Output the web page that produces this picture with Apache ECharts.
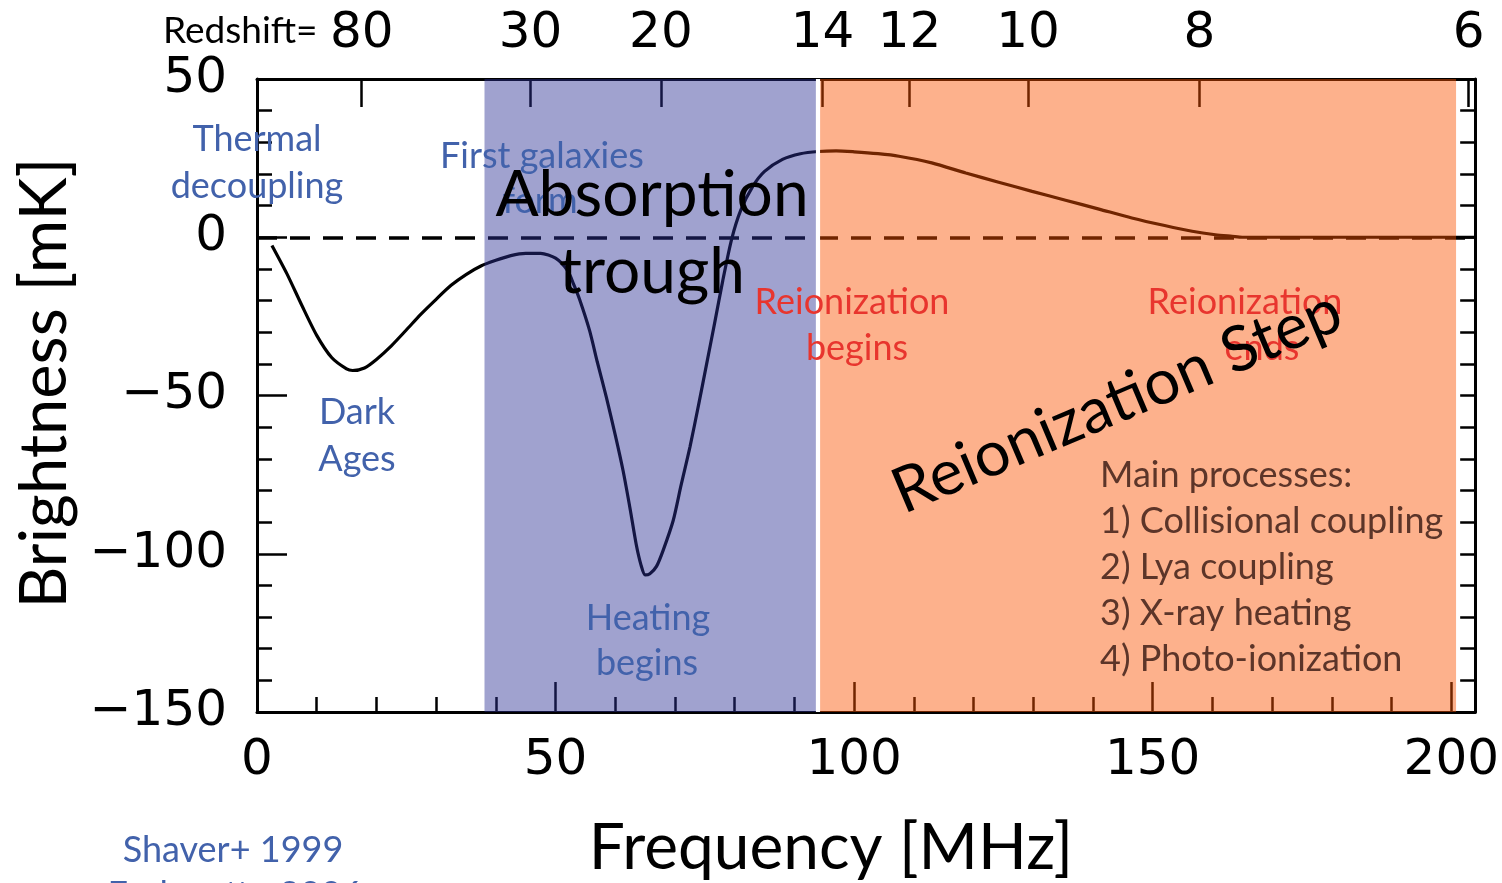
<!DOCTYPE html>
<html>
<head>
<meta charset="utf-8">
<title>21-cm global signal</title>
<script src="https://cdn.jsdelivr.net/npm/echarts/dist/echarts.min.js"></script>
<style>
  html, body { margin: 0; padding: 0; background: #fff; }
  #chart { width: 1502px; height: 883px; }
</style>
</head>
<body>
<div id="chart"></div>
<script>
// Sky-averaged 21-cm brightness temperature versus observed frequency
const frequencyMHz = [2.5, 5, 7.5, 10, 12.5, 15, 16, 18, 20, 22.5, 25, 27.5, 30, 32.5, 35, 37.5, 40, 42.5, 45, 47.5,
  50, 52, 53, 54, 55.7, 57, 58.5, 60, 61.3, 62.5, 63.5, 64.3, 65, 65.8, 66.9, 68, 69.7, 71, 72.5, 74, 75.3, 76.7,
  78, 79.5, 81, 83, 85, 88, 91, 94, 97, 100, 104, 107.5, 113, 118.7, 124.2, 129.8, 135.4, 141, 146.5, 152,
  156.6, 160.5, 163.3, 165, 185, 204];
const brightnessMK = [-2.6, -11.5, -21.5, -31, -38, -41.6, -42.1, -41.3, -38.6, -34.3, -29.3, -24.2, -19.6, -15.2, -11.8, -9.1, -7.3, -5.8, -5.1, -5.1,
  -6.6, -10.5, -14.7, -19.5, -29.5, -39.5, -50.5, -62.5, -73.7, -86, -97, -103.5, -106.7, -106.3, -104, -99, -89.5, -78.5, -66.3, -52.5, -40, -26.5,
  -13.7, -0.5, 8.5, 16, 20.8, 24.6, 26.4, 27.1, 27.3, 27.0, 26.4, 25.6, 23.5, 20.3, 17.4, 14.5, 11.7, 8.9, 6.1, 3.7,
  1.9, 0.8, 0.3, 0, 0, 0];

// Axis ticks
const freqLabels = [0, 50, 100, 150, 200];
const freqMinor = [10, 20, 30, 40, 60, 70, 80, 90, 110, 120, 130, 140, 160, 170, 180, 190];
const brightLabels = [-150, -100, -50, 0, 50];
const brightMinor = [-140, -130, -120, -110, -90, -80, -70, -60, -40, -30, -20, -10, 10, 20, 30, 40];
const redshiftLabels = [80, 30, 20, 14, 12, 10, 8, 6];

// Epoch bands in MHz
const absorptionBand = [38.1, 93.6];
const gapBand = [93.6, 94.3];
const reionizationBand = [94.3, 200.8];

const F21 = 1420.4; // rest frequency of the 21-cm line, MHz
const redshiftFreq = redshiftLabels.map(z => F21 / (1 + z));

const X_MIN = 0, X_MAX = 204, Y_MIN = -150, Y_MAX = 50;
const numFont = 'DejaVu Sans';
const txtFont = 'Lato';
const frame = { show: true, onZero: false, lineStyle: { color: '#000', width: 3 } };
const tickStyle = { color: '#000', width: 2.5 };

function minusFmt(v) { return v < 0 ? '\u2212' + Math.abs(v) : String(v); }

const blueTxt = '#4262ab';
const redTxt = '#e8352e';
const brownTxt = '#5c3529';

function label(text, x, y, opts) {
  opts = opts || {};
  return {
    type: 'text', x: x, y: y, z: opts.z != null ? opts.z : 20, rotation: opts.rotation || 0,
    style: {
      text: text, fill: opts.color || '#000', fontSize: opts.size || 36, fontFamily: opts.font || txtFont,
      align: opts.align || 'center', verticalAlign: 'middle'
    }
  };
}

const chart = echarts.init(document.getElementById('chart'));
chart.setOption({
  backgroundColor: '#fff',
  animation: false,
  grid: { left: 257, right: 25, top: 79, bottom: 171, containLabel: false },
  xAxis: [
    { type: 'value', min: X_MIN, max: X_MAX, position: 'bottom', axisLine: frame,
      axisTick: { inside: true, length: 30, lineStyle: tickStyle, customValues: freqLabels },
      axisLabel: { customValues: freqLabels, color: '#000', fontSize: 50, fontFamily: numFont, margin: 24 },
      splitLine: { show: false } },
    { type: 'value', min: X_MIN, max: X_MAX, position: 'bottom', axisLine: { show: false, onZero: false },
      axisTick: { inside: true, length: 15, lineStyle: tickStyle, customValues: freqMinor },
      axisLabel: { show: false }, splitLine: { show: false } },
    { type: 'value', min: X_MIN, max: X_MAX, position: 'top', axisLine: frame,
      axisTick: { inside: true, length: 28, lineStyle: tickStyle, customValues: redshiftFreq },
      axisLabel: { customValues: redshiftFreq, color: '#000', fontSize: 50, fontFamily: numFont, margin: 20,
        formatter: v => String(Math.round(F21 / v - 1)) },
      splitLine: { show: false } }
  ],
  yAxis: [
    { type: 'value', min: Y_MIN, max: Y_MAX, position: 'left', axisLine: frame,
      axisTick: { inside: true, length: 30, lineStyle: tickStyle, customValues: brightLabels },
      axisLabel: { customValues: brightLabels, color: '#000', fontSize: 50, fontFamily: numFont, margin: 30,
        formatter: minusFmt },
      splitLine: { show: false } },
    { type: 'value', min: Y_MIN, max: Y_MAX, position: 'left', axisLine: { show: false, onZero: false },
      axisTick: { inside: true, length: 15, lineStyle: tickStyle, customValues: brightMinor },
      axisLabel: { show: false }, splitLine: { show: false } },
    { type: 'value', min: Y_MIN, max: Y_MAX, position: 'right', axisLine: frame,
      axisTick: { inside: true, length: 15, lineStyle: tickStyle, customValues: brightMinor.concat([-100, -50, 0]) },
      axisLabel: { show: false }, splitLine: { show: false } }
  ],
  series: [
    {
      name: 'Brightness', type: 'line', xAxisIndex: 0, yAxisIndex: 0, z: 3,
      data: frequencyMHz.map((f, i) => [f, brightnessMK[i]]),
      smooth: 0.25, showSymbol: false, symbol: 'none',
      lineStyle: { color: '#000', width: 3.2 },
      markLine: {
        silent: true, symbol: 'none', label: { show: false },
        lineStyle: { color: '#000', width: 3.5, type: [20, 13] },
        data: [{ yAxis: 0 }]
      }
    },
    {
      name: 'Epochs', type: 'line', xAxisIndex: 0, yAxisIndex: 0, z: 10, data: [],
      markArea: {
        silent: true, z: 10,
        data: [
          [{ xAxis: absorptionBand[0], itemStyle: { color: 'rgba(44,49,149,0.45)' } }, { xAxis: absorptionBand[1] }],
          [{ xAxis: gapBand[0], itemStyle: { color: '#ffffff' } }, { xAxis: gapBand[1] }],
          [{ xAxis: reionizationBand[0], itemStyle: { color: 'rgba(251,82,0,0.45)' } }, { xAxis: reionizationBand[1] }]
        ]
      }
    }
  ],
  graphic: { elements: [
    label('Redshift=', 163, 31, { align: 'left', size: 37 }),
    label('Brightness [mK]', 45, 383, { size: 65, rotation: Math.PI / 2 }),
    label('Frequency [MHz]', 831, 848, { size: 64 }),
    label('Shaver+ 1999', 233, 850, { color: blueTxt }),
    label('Furlanetto 2006', 235, 895, { color: blueTxt }),
    label('Thermal', 257, 139, { color: blueTxt, z: 1 }),
    label('decoupling', 257, 186, { color: blueTxt, z: 1 }),
    label('First galaxies', 440, 156, { color: blueTxt, align: 'left' }),
    label('form', 540, 201, { color: blueTxt }),
    label('Absorption', 652, 195, { size: 64, z: 30 }),
    label('trough', 652, 272, { size: 64, z: 30 }),
    label('Reionization', 852, 302, { color: redTxt }),
    label('begins', 857, 348, { color: redTxt }),
    label('Reionization', 1245, 302, { color: redTxt }),
    label('ends', 1262, 348, { color: redTxt }),
    label('Reionization Step', 1117, 402, { size: 63, z: 30, rotation: 0.40 }),
    label('Dark', 357, 412, { color: blueTxt }),
    label('Ages', 357, 459, { color: blueTxt }),
    label('Heating', 648, 618, { color: blueTxt }),
    label('begins', 647, 663, { color: blueTxt }),
    label('Main processes:', 1100, 475, { align: 'left', color: brownTxt }),
    label('1) Collisional coupling', 1100, 521, { align: 'left', color: brownTxt }),
    label('2) Lya coupling', 1100, 567, { align: 'left', color: brownTxt }),
    label('3) X-ray heating', 1100, 613, { align: 'left', color: brownTxt }),
    label('4) Photo-ionization', 1100, 659, { align: 'left', color: brownTxt })
  ] }
});
</script>
</body>
</html>
